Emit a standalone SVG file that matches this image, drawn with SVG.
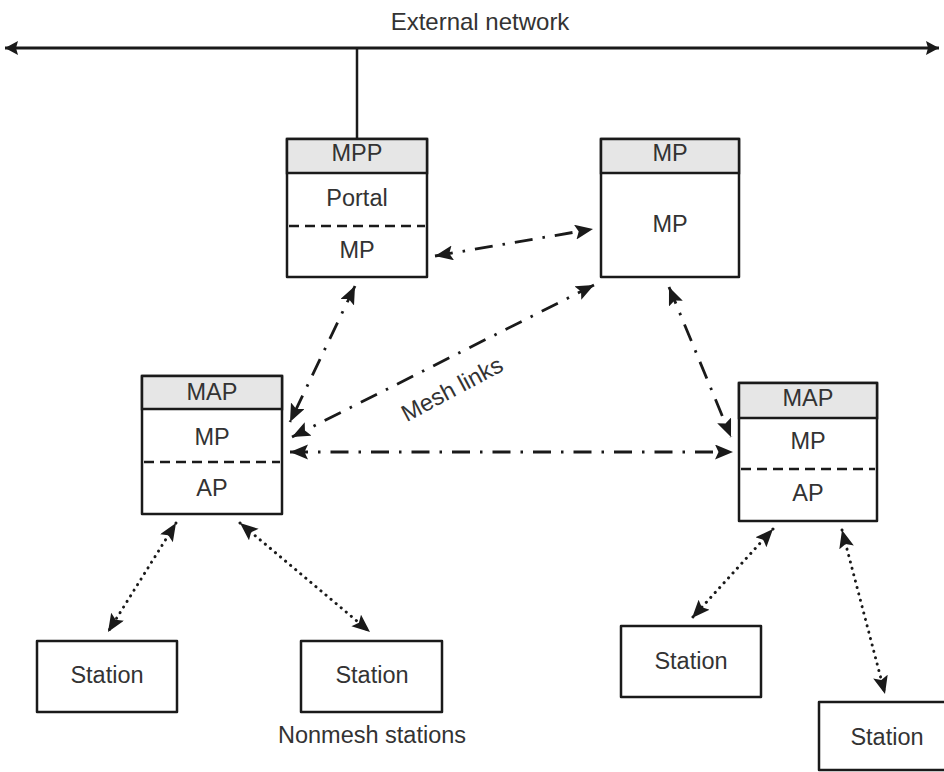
<svg xmlns="http://www.w3.org/2000/svg" width="944" height="772" viewBox="0 0 944 772">
<style>
.box{fill:#fff;stroke:#1a1a1a;stroke-width:2.5;stroke-linejoin:round}
.hdr{fill:#e6e6e6;stroke:#1a1a1a;stroke-width:2.5}
.div{stroke:#1a1a1a;stroke-width:2.5;stroke-dasharray:10 6}
.t{font-family:"Liberation Sans",Arial,sans-serif;font-size:23.5px;fill:#333;text-anchor:middle}
.dd{fill:none;stroke:#1a1a1a;stroke-width:2.8;stroke-dasharray:18 10 2.5 10;marker-start:url(#ah);marker-end:url(#ah)}
.dot{fill:none;stroke:#1a1a1a;stroke-width:3;stroke-linecap:round;stroke-dasharray:0.1 6.5;marker-start:url(#ah);marker-end:url(#ah)}
</style>
<defs>
<marker id="ah" markerUnits="userSpaceOnUse" markerWidth="22" markerHeight="18" refX="18" refY="7.5" orient="auto-start-reverse">
<path d="M0,0 L18,7.5 L0,15 L3.5,7.5 z" fill="#1a1a1a"/>
</marker>
<marker id="ah2" markerUnits="userSpaceOnUse" markerWidth="18" markerHeight="18" refX="13" refY="7" orient="auto-start-reverse">
<path d="M0,0 L13,7 L0,14 L2,7 z" fill="#1a1a1a"/>
</marker>
</defs>
<rect width="944" height="772" fill="#fff"/>
<text class="t" x="480" y="30" style="font-size:24px">External network</text>
<g id="connectors">
<line x1="5" y1="48" x2="939" y2="48" stroke="#1a1a1a" stroke-width="3" marker-start="url(#ah2)" marker-end="url(#ah2)"/>
<line x1="357" y1="48" x2="357" y2="139" stroke="#1a1a1a" stroke-width="2.5"/>
<line class="dd" x1="435" y1="256" x2="593" y2="229"/>
<line class="dd" x1="355" y1="286" x2="290" y2="422"/>
<line class="dd" x1="594" y1="285" x2="292" y2="437"/>
<line class="dd" x1="669" y1="287" x2="731" y2="437"/>
<line class="dd" x1="290" y1="452" x2="733" y2="452"/>
<line class="dot" x1="176" y1="523" x2="108" y2="632"/>
<line class="dot" x1="240" y1="523" x2="370" y2="632"/>
<line class="dot" x1="773" y1="529" x2="692" y2="618"/>
<line class="dot" x1="842" y1="530" x2="885" y2="694"/>
<text class="t" x="452" y="397" transform="rotate(-28 452 389)">Mesh links</text>
</g>
<g id="mpp">
<rect class="box" x="287" y="139" width="140" height="138"/>
<rect class="hdr" x="287" y="139" width="140" height="34"/>
<line class="div" x1="289" y1="226" x2="425" y2="226"/>
<text class="t" x="357" y="161">MPP</text>
<text class="t" x="357" y="206">Portal</text>
<text class="t" x="357" y="258">MP</text>
</g>
<g id="mp">
<rect class="box" x="601" y="139" width="138" height="138"/>
<rect class="hdr" x="601" y="139" width="138" height="34"/>
<text class="t" x="670" y="161">MP</text>
<text class="t" x="670" y="232">MP</text>
</g>
<g id="map-left">
<rect class="box" x="142" y="376" width="140" height="138"/>
<rect class="hdr" x="142" y="376" width="140" height="33"/>
<line class="div" x1="144" y1="462" x2="280" y2="462"/>
<text class="t" x="212" y="400">MAP</text>
<text class="t" x="212" y="445">MP</text>
<text class="t" x="212" y="496">AP</text>
</g>
<g id="map-right">
<rect class="box" x="739" y="383" width="138" height="138"/>
<rect class="hdr" x="739" y="383" width="138" height="35"/>
<line class="div" x1="741" y1="469" x2="875" y2="469"/>
<text class="t" x="808" y="406">MAP</text>
<text class="t" x="808" y="449">MP</text>
<text class="t" x="808" y="501">AP</text>
</g>
<g id="station1">
<rect class="box" x="37" y="641" width="140" height="71"/>
<text class="t" x="107" y="683">Station</text>
</g>
<g id="station2">
<rect class="box" x="301" y="641" width="141" height="71"/>
<text class="t" x="372" y="683">Station</text>
</g>
<text class="t" x="372" y="743">Nonmesh stations</text>
<g id="station3">
<rect class="box" x="621" y="626" width="140" height="71"/>
<text class="t" x="691" y="669">Station</text>
</g>
<g id="station4">
<rect class="box" x="819" y="702" width="141" height="68"/>
<text class="t" x="887" y="745">Station</text>
</g>
</svg>
